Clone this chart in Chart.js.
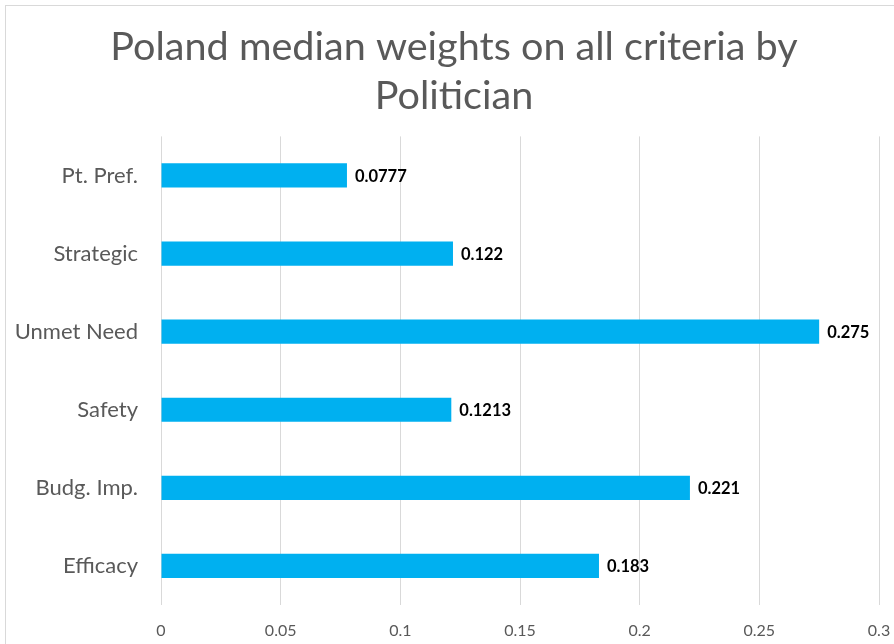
<!DOCTYPE html>
<html lang="en">
<head>
    <meta charset="UTF-8">
    <title>Poland median weights</title>
    <style>
        html, body { margin: 0; padding: 0; background: #fff; overflow: hidden; }
        #wrap { width: 894px; height: 644px; }
    </style>
</head>
<body>
    <div id="wrap"><canvas id="myChart" width="894" height="644"></canvas></div>

    <script src="https://cdn.jsdelivr.net/npm/chart.js@4/dist/chart.umd.min.js"></script>
    <script>
        // data
        const criteria = ['Pt. Pref.', 'Strategic', 'Unmet Need', 'Safety', 'Budg. Imp.', 'Efficacy'];
        const weights = [0.0777, 0.122, 0.275, 0.1213, 0.221, 0.183];
        const valueLabels = ['0.0777', '0.122', '0.275', '0.1213', '0.221', '0.183'];
        const xTicks = [0, 0.05, 0.1, 0.15, 0.2, 0.25, 0.3];

        const fontName = 'Lato, "Open Sans", sans-serif';
        const grey = '#595959';

        // outer frame like the excel chart border
        const framePlugin = {
            id: 'frame',
            afterLayout(chart) {
                // let the category labels run into the left padding (no clipping)
                chart.scales.y.left = 0;
            },
            beforeDraw(chart) {
                const ctx = chart.ctx;
                ctx.save();
                ctx.strokeStyle = '#d9d9d9';
                ctx.lineWidth = 1;
                ctx.strokeRect(5.5, 5.5, chart.width + 20, chart.height + 20);
                ctx.restore();
            }
        };

        // value labels at the end of each bar
        const valuePlugin = {
            id: 'values',
            afterDatasetsDraw(chart) {
                const ctx = chart.ctx;
                const meta = chart.getDatasetMeta(0);
                ctx.save();
                ctx.font = 'bold 16.5px ' + fontName;
                ctx.fillStyle = '#000';
                ctx.textAlign = 'left';
                ctx.textBaseline = 'middle';
                meta.data.forEach((bar, i) => {
                    ctx.fillText(valueLabels[i], bar.x + 8, bar.y + 1);
                });
                ctx.restore();
            }
        };

        var ctx = document.getElementById('myChart').getContext('2d');
        var myChart = new Chart(ctx, {
            type: 'bar',
            data: {
                labels: criteria,
                datasets: [{
                    data: weights,
                    backgroundColor: '#00b0f0',
                    barPercentage: 0.31,
                    categoryPercentage: 1
                }]
            },
            options: {
                indexAxis: 'y',
                responsive: false,
                animation: false,
                // left padding keeps the title centred like the original frame
                layout: { padding: { left: 29, right: 15, top: 0, bottom: 0 } },
                plugins: {
                    legend: { display: false },
                    tooltip: { enabled: false },
                    title: {
                        display: true,
                        text: ['Poland median weights on all criteria by', 'Politician'],
                        color: grey,
                        font: { family: fontName, size: 39.6, weight: 'normal', lineHeight: 1.23 },
                        padding: { top: 23, bottom: 16 }
                    }
                },
                scales: {
                    x: {
                        min: 0,
                        max: 0.3,
                        afterBuildTicks(scale) {
                            scale.ticks = xTicks.map(v => ({ value: v }));
                        },
                        afterFit(scale) {
                            scale.height = 39;
                            scale.paddingLeft = 0;
                            scale.paddingRight = 0;
                        },
                        grid: { color: '#d9d9d9', drawTicks: false },
                        border: { display: false },
                        ticks: {
                            color: grey,
                            padding: 16,
                            maxRotation: 0,
                            font: { family: fontName, size: 16 },
                            callback: (v) => String(+v.toFixed(2))
                        }
                    },
                    y: {
                        grid: { display: false, drawTicks: false },
                        border: { display: false },
                        afterFit(scale) {
                            scale.width = 132;
                            scale.paddingTop = 0;
                            scale.paddingBottom = 0;
                        },
                        ticks: {
                            color: grey,
                            padding: 23,
                            font: { family: fontName, size: 22 }
                        }
                    }
                }
            },
            plugins: [framePlugin, valuePlugin]
        });
    </script>
</body>
</html>
